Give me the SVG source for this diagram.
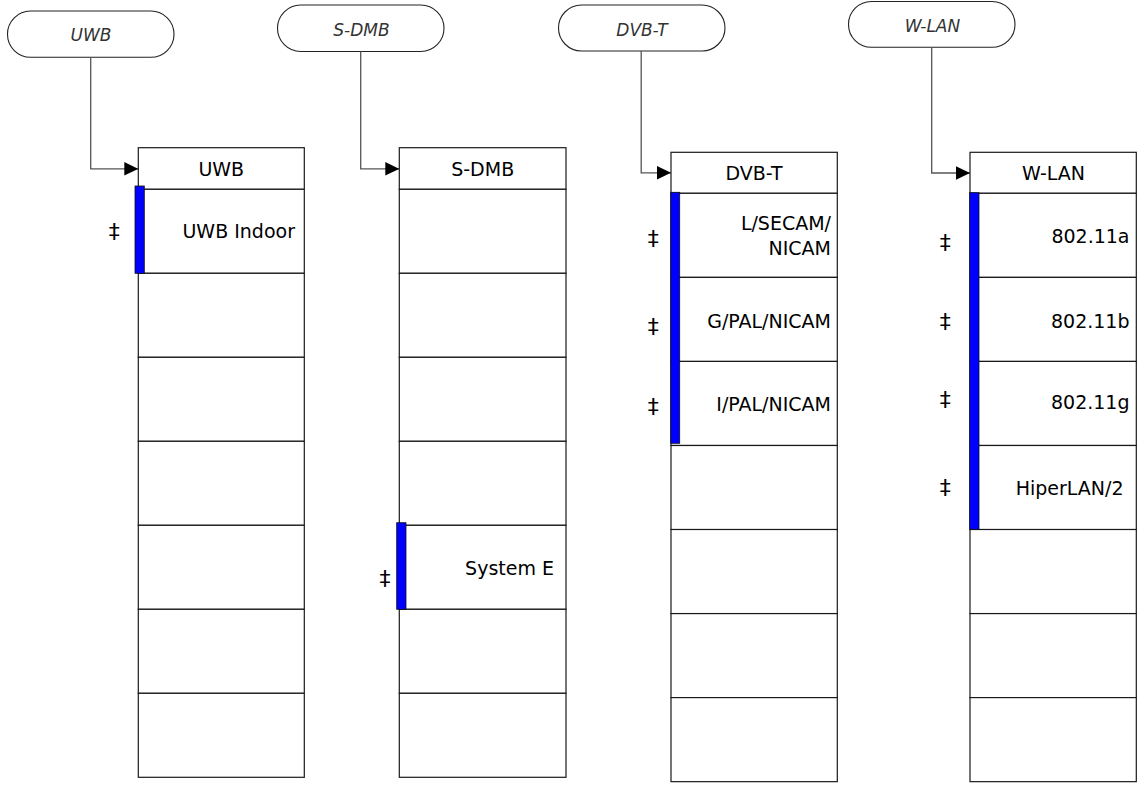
<svg xmlns="http://www.w3.org/2000/svg" width="1137" height="785" viewBox="0 0 1137 785">
<defs>
<marker id="arr" markerWidth="14" markerHeight="14" refX="14" refY="7" orient="auto" markerUnits="userSpaceOnUse">
<path d="M0,0.3 L14,7 L0,13.7 Z" fill="#000"/>
</marker>
<style>
.oval{fill:#fff;stroke:#222;stroke-width:1.1}
.ot{font-family:"DejaVu Sans",sans-serif;font-style:italic;font-weight:200;font-size:17px;fill:#333;text-anchor:middle}
.cell{fill:#fff;stroke:#1a1a1a;stroke-width:1.2}
.ht{font-family:"DejaVu Sans",sans-serif;font-size:19px;fill:#000;text-anchor:middle}
.rt{font-family:"DejaVu Sans",sans-serif;font-size:19px;fill:#000;text-anchor:end}
.dg{font-family:"DejaVu Sans",sans-serif;font-size:22px;fill:#000;text-anchor:middle}
.bar{fill:#0000ff;stroke:#111;stroke-width:0.8}
.con{fill:none;stroke:#555;stroke-width:1.3}
</style>
</defs>
<rect width="1137" height="785" fill="#fff"/>

<g id="oval-uwb"><rect class="oval" x="7.5" y="11" width="166.5" height="46.3" rx="23.1"/><text class="ot" x="91" y="41">UWB</text></g>
<g id="oval-sdmb"><rect class="oval" x="277.5" y="5" width="166.5" height="46.5" rx="23.2"/><text class="ot" x="361.5" y="35.7">S-DMB</text></g>
<g id="oval-dvbt"><rect class="oval" x="558.5" y="5" width="166.5" height="46" rx="23"/><text class="ot" x="642" y="35.7">DVB-T</text></g>
<g id="oval-wlan"><rect class="oval" x="848.5" y="1.5" width="166.5" height="45.8" rx="22.9"/><text class="ot" x="932.5" y="32.3">W-LAN</text></g>

<g id="connectors">
<path class="con" d="M90.7,57.3 V168.8 H138.3" marker-end="url(#arr)"/>
<path class="con" d="M360.7,51.5 V168.8 H399.3" marker-end="url(#arr)"/>
<path class="con" d="M641.2,51 V172.8 H671" marker-end="url(#arr)"/>
<path class="con" d="M931.7,47.3 V173 H970" marker-end="url(#arr)"/>
</g>

<g id="menu-uwb">
<rect class="cell" x="138.3" y="147.7" width="166" height="41.6"/>
<text class="ht" x="221.3" y="176">UWB</text>
<rect class="cell" x="138.3" y="189.3" width="166" height="84"/>
<rect class="cell" x="138.3" y="273.3" width="166" height="84"/>
<rect class="cell" x="138.3" y="357.3" width="166" height="84"/>
<rect class="cell" x="138.3" y="441.3" width="166" height="84"/>
<rect class="cell" x="138.3" y="525.3" width="166" height="84"/>
<rect class="cell" x="138.3" y="609.3" width="166" height="84"/>
<rect class="cell" x="138.3" y="693.3" width="166" height="84"/>
<rect class="bar" x="135" y="186" width="9.3" height="87.3"/>
<text class="rt" x="295" y="237.5">UWB Indoor</text>
<text class="dg" x="114.3" y="239">‡</text>
</g>

<g id="menu-sdmb">
<rect class="cell" x="399.3" y="147.7" width="166.7" height="41.6"/>
<text class="ht" x="482.7" y="175.8">S-DMB</text>
<rect class="cell" x="399.3" y="189.3" width="166.7" height="84"/>
<rect class="cell" x="399.3" y="273.3" width="166.7" height="84"/>
<rect class="cell" x="399.3" y="357.3" width="166.7" height="84"/>
<rect class="cell" x="399.3" y="441.3" width="166.7" height="84"/>
<rect class="cell" x="399.3" y="525.3" width="166.7" height="84"/>
<rect class="cell" x="399.3" y="609.3" width="166.7" height="84"/>
<rect class="cell" x="399.3" y="693.3" width="166.7" height="84"/>
<rect class="bar" x="396.7" y="522.7" width="9.3" height="86.6"/>
<text class="rt" x="554" y="574.5">System E</text>
<text class="dg" x="385" y="586">‡</text>
</g>

<g id="menu-dvbt">
<rect class="cell" x="671" y="152.3" width="166.3" height="41"/>
<text class="ht" x="754" y="180">DVB-T</text>
<rect class="cell" x="671" y="193.3" width="166.3" height="84.06"/>
<rect class="cell" x="671" y="277.4" width="166.3" height="84.06"/>
<rect class="cell" x="671" y="361.4" width="166.3" height="84.06"/>
<rect class="cell" x="671" y="445.5" width="166.3" height="84.06"/>
<rect class="cell" x="671" y="529.5" width="166.3" height="84.06"/>
<rect class="cell" x="671" y="613.6" width="166.3" height="84.06"/>
<rect class="cell" x="671" y="697.6" width="166.3" height="84.06"/>
<rect class="bar" x="670.7" y="192.3" width="9" height="251"/>
<text class="rt" x="831" y="230">L/SECAM/</text>
<text class="rt" x="831" y="255.3">NICAM</text>
<text class="rt" x="831" y="328.3">G/PAL/NICAM</text>
<text class="rt" x="831" y="411">I/PAL/NICAM</text>
<text class="dg" x="653.3" y="246.3">‡</text>
<text class="dg" x="653.3" y="333.7">‡</text>
<text class="dg" x="653.3" y="413.7">‡</text>
</g>

<g id="menu-wlan">
<rect class="cell" x="970" y="152.3" width="166.3" height="41"/>
<text class="ht" x="1053.5" y="180">W-LAN</text>
<rect class="cell" x="970" y="193.3" width="166.3" height="84.06"/>
<rect class="cell" x="970" y="277.4" width="166.3" height="84.06"/>
<rect class="cell" x="970" y="361.4" width="166.3" height="84.06"/>
<rect class="cell" x="970" y="445.5" width="166.3" height="84.06"/>
<rect class="cell" x="970" y="529.5" width="166.3" height="84.06"/>
<rect class="cell" x="970" y="613.6" width="166.3" height="84.06"/>
<rect class="cell" x="970" y="697.6" width="166.3" height="84.06"/>
<rect class="bar" x="969.7" y="192.7" width="9.3" height="336.6"/>
<text class="rt" x="1129.5" y="242.7">802.11a</text>
<text class="rt" x="1129.5" y="328.3">802.11b</text>
<text class="rt" x="1129.5" y="408.5">802.11g</text>
<text class="rt" x="1123.5" y="495">HiperLAN/2</text>
<text class="dg" x="945.3" y="250.3">‡</text>
<text class="dg" x="945.3" y="328.7">‡</text>
<text class="dg" x="945.3" y="407">‡</text>
<text class="dg" x="945.3" y="495">‡</text>
</g>
</svg>
